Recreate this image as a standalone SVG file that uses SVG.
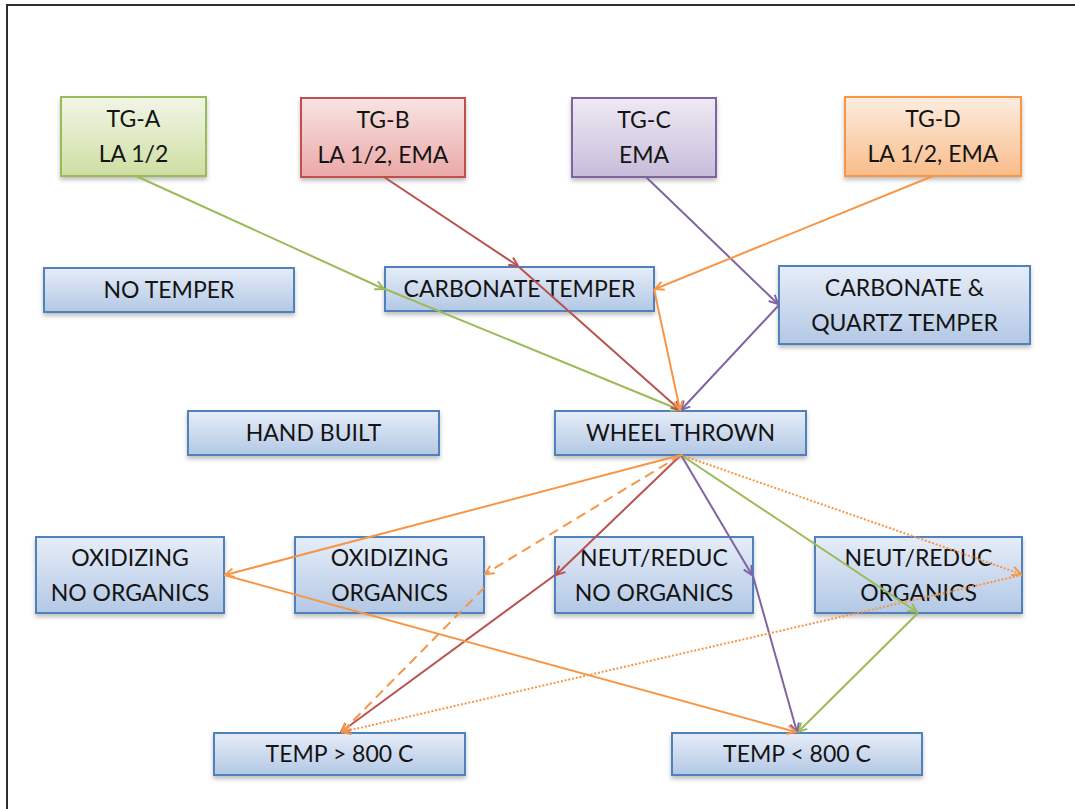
<svg xmlns="http://www.w3.org/2000/svg" width="1075" height="809" viewBox="0 0 1075 809">
  <style>
    .lbl { font-family: Lato, "Liberation Sans", "DejaVu Sans", sans-serif; font-size: 23px; fill: #141414; text-anchor: middle; }
    .box { stroke-width: 2; filter: url(#shadow); }
    .blue { fill: url(#gBlue); stroke: #4F81BD; }
    .green-box { fill: url(#gGreen); stroke: #9BBB59; }
    .red-box { fill: url(#gRed); stroke: #C0504D; }
    .purple-box { fill: url(#gPurple); stroke: #8064A2; }
    .orange-box { fill: url(#gOrange); stroke: #F79646; }
    .ln { fill: none; stroke-width: 2; }
    .lg { stroke: #9BBB59; marker-end: url(#aG); }
    .lr { stroke: #B9524F; marker-end: url(#aR); }
    .lp { stroke: #8064A2; marker-end: url(#aP); }
    .lo { stroke: #F79646; marker-end: url(#aO); }
    .dash { stroke-dasharray: 10 6; }
    .dot { stroke-dasharray: 2 1.8; }
  </style>
  <defs>
    <linearGradient id="gBlue" x1="0" y1="0" x2="0" y2="1">
      <stop offset="0" stop-color="#E6EDF8"/>
      <stop offset="1" stop-color="#B3C8E5"/>
    </linearGradient>
    <linearGradient id="gGreen" x1="0" y1="0" x2="0" y2="1">
      <stop offset="0" stop-color="#F2F6E8"/>
      <stop offset="1" stop-color="#CEDEA2"/>
    </linearGradient>
    <linearGradient id="gRed" x1="0" y1="0" x2="0" y2="1">
      <stop offset="0" stop-color="#F8E4E3"/>
      <stop offset="1" stop-color="#EAA8A7"/>
    </linearGradient>
    <linearGradient id="gPurple" x1="0" y1="0" x2="0" y2="1">
      <stop offset="0" stop-color="#EEEAF3"/>
      <stop offset="1" stop-color="#C8BCDA"/>
    </linearGradient>
    <linearGradient id="gOrange" x1="0" y1="0" x2="0" y2="1">
      <stop offset="0" stop-color="#FDEDE0"/>
      <stop offset="1" stop-color="#F9BC8A"/>
    </linearGradient>
    <filter id="shadow" x="-10%" y="-20%" width="120%" height="150%">
      <feDropShadow dx="0" dy="3" stdDeviation="2" flood-color="#000" flood-opacity="0.25"/>
    </filter>
    <marker id="aG" viewBox="0 0 10 10" refX="9" refY="5" markerWidth="11" markerHeight="11" orient="auto" markerUnits="userSpaceOnUse">
      <path d="M1,1 L9,5 L1,9" fill="none" stroke="#9BBB59" stroke-width="1.8"/>
    </marker>
    <marker id="aR" viewBox="0 0 10 10" refX="9" refY="5" markerWidth="11" markerHeight="11" orient="auto" markerUnits="userSpaceOnUse">
      <path d="M1,1 L9,5 L1,9" fill="none" stroke="#B9524F" stroke-width="1.8"/>
    </marker>
    <marker id="aP" viewBox="0 0 10 10" refX="9" refY="5" markerWidth="11" markerHeight="11" orient="auto" markerUnits="userSpaceOnUse">
      <path d="M1,1 L9,5 L1,9" fill="none" stroke="#8064A2" stroke-width="1.8"/>
    </marker>
    <marker id="aO" viewBox="0 0 10 10" refX="9" refY="5" markerWidth="11" markerHeight="11" orient="auto" markerUnits="userSpaceOnUse">
      <path d="M1,1 L9,5 L1,9" fill="none" stroke="#F79646" stroke-width="1.8" stroke-dasharray="none"/>
    </marker>
  </defs>

  <!-- page background and frame edges -->
  <rect width="1075" height="809" fill="#ffffff"/>
  <path d="M7,809 V5 H1075" fill="none" stroke="#2e2e2e" stroke-width="2"/>

  <!-- temper groups -->
  <g id="tg-a">
    <rect class="box green-box" x="61" y="97" width="145" height="79"/>
    <text class="lbl" x="133.5" y="127">TG-A</text>
    <text class="lbl" x="133.5" y="162">LA 1/2</text>
  </g>
  <g id="tg-b">
    <rect class="box red-box" x="301" y="98" width="164" height="79"/>
    <text class="lbl" x="383" y="128">TG-B</text>
    <text class="lbl" x="383" y="163">LA 1/2, EMA</text>
  </g>
  <g id="tg-c">
    <rect class="box purple-box" x="572" y="98" width="144" height="79"/>
    <text class="lbl" x="644" y="128">TG-C</text>
    <text class="lbl" x="644" y="163">EMA</text>
  </g>
  <g id="tg-d">
    <rect class="box orange-box" x="845" y="97" width="176" height="79"/>
    <text class="lbl" x="933" y="127">TG-D</text>
    <text class="lbl" x="933" y="162">LA 1/2, EMA</text>
  </g>

  <!-- temper types -->
  <g id="no-temper">
    <rect class="box blue" x="44" y="268" width="250" height="44"/>
    <text class="lbl" x="169" y="298">NO TEMPER</text>
  </g>
  <g id="carbonate-temper">
    <rect class="box blue" x="385" y="267" width="269" height="44"/>
    <text class="lbl" x="519.5" y="297">CARBONATE TEMPER</text>
  </g>
  <g id="carbonate-quartz">
    <rect class="box blue" x="779" y="266" width="251" height="78"/>
    <text class="lbl" x="904.5" y="296">CARBONATE &amp;</text>
    <text class="lbl" x="904.5" y="331">QUARTZ TEMPER</text>
  </g>

  <!-- forming methods -->
  <g id="hand-built">
    <rect class="box blue" x="188" y="411" width="251" height="44"/>
    <text class="lbl" x="313.5" y="441">HAND BUILT</text>
  </g>
  <g id="wheel-thrown">
    <rect class="box blue" x="555" y="411" width="251" height="44"/>
    <text class="lbl" x="680.5" y="441">WHEEL THROWN</text>
  </g>

  <!-- firing atmospheres -->
  <g id="ox-no-org">
    <rect class="box blue" x="36" y="537" width="188" height="76"/>
    <text class="lbl" x="130" y="566">OXIDIZING</text>
    <text class="lbl" x="130" y="601">NO ORGANICS</text>
  </g>
  <g id="ox-org">
    <rect class="box blue" x="295" y="537" width="189" height="76"/>
    <text class="lbl" x="389.5" y="566">OXIDIZING</text>
    <text class="lbl" x="389.5" y="601">ORGANICS</text>
  </g>
  <g id="nr-no-org">
    <rect class="box blue" x="555" y="537" width="198" height="76"/>
    <text class="lbl" x="654" y="566">NEUT/REDUC</text>
    <text class="lbl" x="654" y="601">NO ORGANICS</text>
  </g>
  <g id="nr-org">
    <rect class="box blue" x="815" y="537" width="207" height="76"/>
    <text class="lbl" x="918.5" y="566">NEUT/REDUC</text>
    <text class="lbl" x="918.5" y="601">ORGANICS</text>
  </g>

  <!-- firing temperatures -->
  <g id="temp-high">
    <rect class="box blue" x="214" y="733" width="251" height="42"/>
    <text class="lbl" x="339.5" y="762">TEMP &gt; 800 C</text>
  </g>
  <g id="temp-low">
    <rect class="box blue" x="672" y="733" width="250" height="42"/>
    <text class="lbl" x="797" y="762">TEMP &lt; 800 C</text>
  </g>

  <!-- connectors -->
  <g id="connectors">
    <!-- TG-A -->
    <line class="ln lg" x1="136" y1="176" x2="384" y2="289"/>
    <line class="ln lg" x1="385" y1="289" x2="680" y2="410"/>
    <line class="ln lg" x1="681" y1="455" x2="917" y2="612"/>
    <line class="ln lg" x1="918" y1="613" x2="798" y2="732"/>
    <!-- TG-B -->
    <line class="ln lr" x1="384" y1="177" x2="518" y2="266"/>
    <line class="ln lr" x1="519" y1="267" x2="680" y2="410"/>
    <line class="ln lr" x1="681" y1="455" x2="556" y2="575"/>
    <line class="ln lr" x1="555" y1="575" x2="341" y2="732"/>
    <!-- TG-C -->
    <line class="ln lp" x1="646" y1="177" x2="778" y2="304"/>
    <line class="ln lp" x1="779" y1="305" x2="681" y2="410"/>
    <line class="ln lp" x1="681" y1="455" x2="752" y2="575"/>
    <line class="ln lp" x1="753" y1="576" x2="797" y2="732"/>
    <!-- TG-D -->
    <line class="ln lo" x1="933" y1="176" x2="655" y2="289"/>
    <line class="ln lo" x1="654" y1="289" x2="680" y2="410"/>
    <line class="ln lo" x1="681" y1="455" x2="225" y2="575"/>
    <line class="ln lo" x1="224" y1="575" x2="796" y2="732"/>
    <line class="ln lo dash" x1="681" y1="455" x2="485" y2="574"/>
    <line class="ln lo dash" x1="484" y1="588" x2="342" y2="732"/>
    <line class="ln lo dot" x1="681" y1="455" x2="1021" y2="574"/>
    <line class="ln lo dot" x1="1022" y1="575" x2="342" y2="732"/>
  </g>
</svg>
